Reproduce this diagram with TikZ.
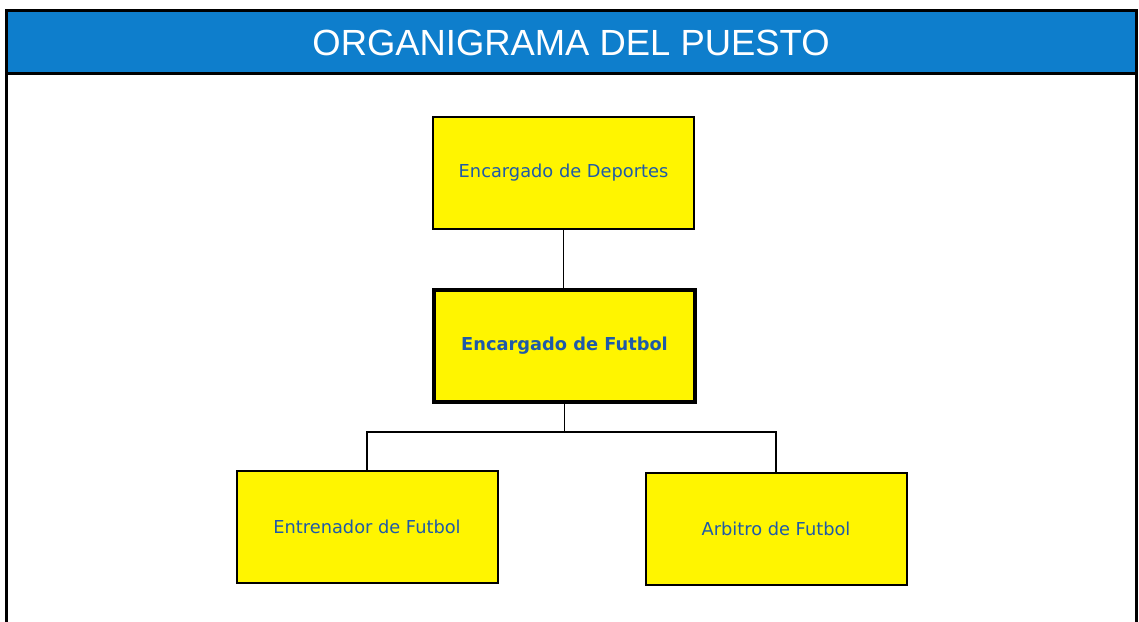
\documentclass[tikz,border=0pt]{standalone}
\usepackage{fontspec}
\setmainfont{DejaVu Sans}
\newfontfamily\titlefont{Liberation Sans}
\definecolor{hdrblue}{HTML}{0E7ECC}
\definecolor{boxyellow}{HTML}{FFF500}
\definecolor{txtblue}{HTML}{1F5AA8}
\begin{document}
\begin{tikzpicture}[x=1pt,y=-1pt,
  orgbox/.style={draw=black,line width=2pt,fill=boxyellow,minimum width=261pt,minimum height=112pt,inner sep=0pt,text=txtblue,font=\fontsize{17.8}{20}\selectfont},
  mainbox/.style={orgbox,line width=4.5pt,font=\bfseries\fontsize{17.8}{20}\selectfont},
  conn/.style={draw=black,line width=1.8pt}]
\useasboundingbox (0,0) rectangle (1139,621);
\fill[white] (0,0) rectangle (1139,621);
\fill[hdrblue] (6,10) rectangle (1136,73);
\draw[line width=3pt] (6,640) -- (6,10) -- (1136,10) -- (1136,640);
\draw[line width=3pt] (6,73) -- (1136,73);
\node[text=white,font=\titlefont\fontsize{36.4}{40}\selectfont] (title) at (571,42.5) {ORGANIGRAMA DEL PUESTO};
\node[orgbox] (dep) at (563.5,173) {Encargado de Deportes};
\node[mainbox] (fut) at (564.5,346) {Encargado de Futbol};
\node[orgbox] (ent) at (367,527) {Entrenador de Futbol};
\node[orgbox] (arb) at (776,529) {Arbitro de Futbol};
\coordinate (j) at (564.5,432);
\draw[conn] (dep.south) -- (dep.south |- fut.north);
\draw[conn] (fut.south) -- (j) -| (ent.north);
\draw[conn] (j) -| (arb.north);
\end{tikzpicture}
\end{document}
